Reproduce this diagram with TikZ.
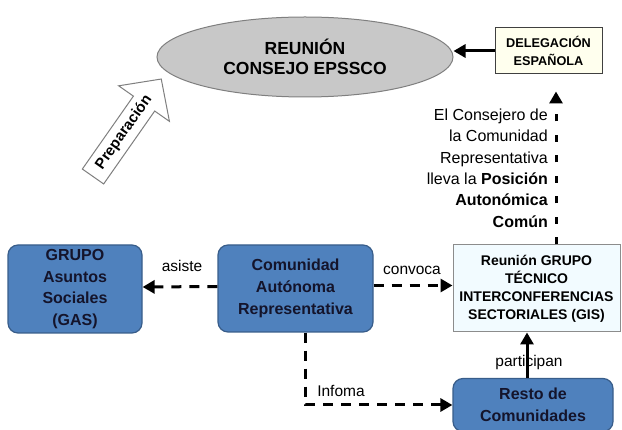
\documentclass[tikz,border=0pt]{standalone}
\usepackage{fontspec}
\setmainfont{Liberation Sans}
\usetikzlibrary{shapes.geometric,arrows.meta}
\definecolor{blfill}{HTML}{4F81BD}
\definecolor{bldraw}{HTML}{385D8A}
\definecolor{bltext}{HTML}{14142B}
\definecolor{ellfill}{HTML}{C8C8C8}
\definecolor{elldraw}{HTML}{7F7F7F}
\definecolor{delfill}{HTML}{FFFFEE}
\definecolor{gisfill}{HTML}{F2FBFF}
\definecolor{gisdraw}{HTML}{8C8C8C}
\tikzset{
  bluebox/.style={rounded corners=10pt, draw=bldraw, fill=blfill, line width=1.2pt,
    text=bltext, font=\bfseries\fontsize{16}{21.8}\selectfont, align=center, inner sep=0pt},
  whitebox/.style={draw, line width=1pt, align=center, inner sep=0pt},
  conn/.style={line width=3pt, -{Triangle[length=12pt,width=13pt]}},
  hdash/.style={conn, dash pattern=on 10pt off 8pt},
  vdash/.style={conn, dash pattern=on 7pt off 13.5pt},
  lbl/.style={font=\fontsize{15.5}{18}\selectfont, inner sep=0pt, anchor=base},
  prepshape/.style={draw=elldraw, fill=white, line width=1pt, line join=miter}
}
\begin{document}
\begin{tikzpicture}[x=1pt,y=-1pt]
\useasboundingbox (0,0) rectangle (622,430);

% main nodes
\node[ellipse, draw=elldraw, fill=ellfill, line width=1pt, minimum width=296pt,
      minimum height=80pt, inner sep=0pt, align=center,
      font=\bfseries\fontsize{17.5}{20}\selectfont] (ell) at (305,57) {REUNIÓN\\CONSEJO EPSSCO};
\node[whitebox, draw=black!75, fill=delfill, minimum width=107pt, minimum height=46pt,
      font=\bfseries\fontsize{12.7}{18}\selectfont] (deleg) at (548.5,51) {DELEGACIÓN\\ESPAÑOLA};
\node[bluebox, minimum width=134pt, minimum height=88pt] (gas) at (75,289) {GRUPO\\Asuntos\\Sociales\\(GAS)};
\node[bluebox, minimum width=155pt, minimum height=87pt] (com) at (295.5,288.5) {Comunidad\\Autónoma\\Representativa};
\node[whitebox, draw=gisdraw, fill=gisfill, minimum width=167pt, minimum height=87pt,
      font=\bfseries\fontsize{14}{18}\selectfont] (gis) at (536.5,288.5)
      {Reunión GRUPO\\TÉCNICO\\INTERCONFERENCIAS\\SECTORIALES (GIS)};
\node[bluebox, minimum width=160pt, minimum height=53pt] (resto) at (533,405) {Resto de\\Comunidades};

% explanatory text
\node[anchor=north east, inner sep=0pt, align=right, font=\fontsize{16}{21.4}\selectfont] (cons) at (548,108.5)
  {El Consejero de\\la Comunidad\\Representativa\\lleva la \textbf{Posición}\\\textbf{Autonómica}\\\textbf{Común}};

% connectors
\draw[conn] (deleg.west) -- (deleg.west -| ell.east);
\draw[vdash, shorten >=17pt] ([xshift=19.5pt]gis.north) -- ([xshift=19.5pt]gis.north |- deleg.south);
\draw[hdash] ([yshift=2pt]com.west) -- ([yshift=2pt]gas.east);
\draw[hdash] ([yshift=3pt]com.east) -- ([yshift=3pt]gis.west);
\draw[hdash] ([xshift=10pt]com.south) |- (resto.west);
\draw[conn] ([xshift=-6pt]resto.north) -- ([xshift=-6pt]resto.north |- gis.south);

% labels
\node[lbl] (lasiste) at (182,272) {asiste};
\node[lbl] (lconvoca) at (412,275) {convoca};
\node[lbl] (linfoma) at (341,397) {Infoma};
\node[lbl] (lpart) at (529,367) {participan};

% Preparacion block arrow
\begin{scope}[shift={(93,176.5)}, rotate=55]
  \draw[prepshape] (0,-13) -- (89,-13) -- (89,-31) -- (119,0) -- (89,31) -- (89,13) -- (0,13) -- cycle;
  \node[rotate=55, inner sep=0pt, font=\bfseries\fontsize{15}{15}\selectfont] (prep) at (54,0) {Preparación};
\end{scope}
\end{tikzpicture}
\end{document}
